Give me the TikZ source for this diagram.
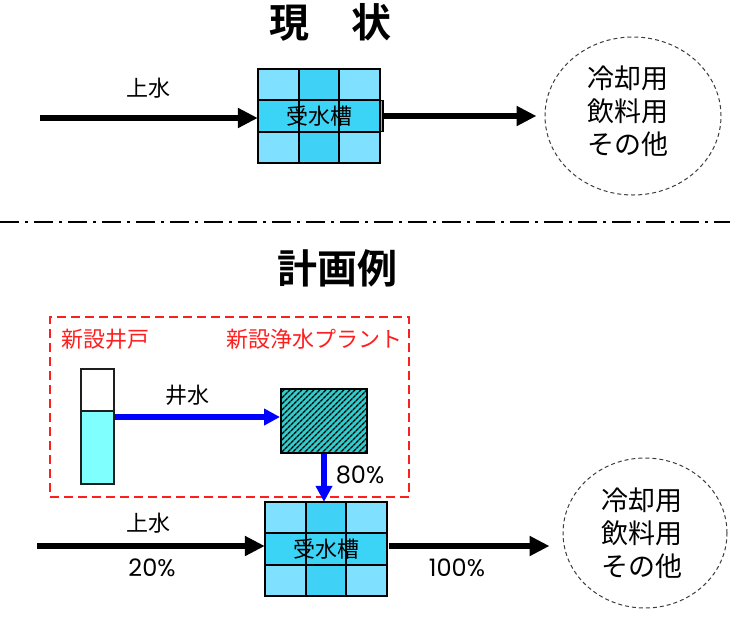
\documentclass[tikz,border=0pt]{standalone}
\usepackage{fontspec}
\setmainfont{Noto Sans CJK JP}[BoldFont={Noto Sans CJK JP Bold}]
\newfontfamily\numfont{Poppins}
\usetikzlibrary{arrows.meta,patterns.meta,shapes.geometric,calc}
\definecolor{cellL}{RGB}{128,224,255}
\definecolor{cellD}{RGB}{64,210,246}
\definecolor{bandc}{RGB}{60,212,246}
\definecolor{waterc}{RGB}{128,255,255}
\definecolor{plantc}{RGB}{51,204,204}
\definecolor{newred}{RGB}{255,30,30}
\tikzset{
  bigarrow/.style={line width=6.5pt,-{Triangle[length=20pt,width=19pt]}},
  bluearrow/.style={line width=5.5pt,draw={rgb,255:red,0;green,0;blue,255},-{Triangle[length=16pt,width=16pt]}},
  title/.style={font=\bfseries\fontsize{40}{44}\selectfont},
  lbl/.style={font=\fontsize{22}{26}\selectfont},
  redlbl/.style={font=\fontsize{22}{26}\selectfont,text=newred},
  num/.style={font=\numfont\fontsize{24}{28}\selectfont},
  usage/.style={ellipse,draw={rgb,255:red,60;green,60;blue,60},line width=1pt,dash pattern=on 4pt off 3pt,
     align=center,inner sep=0pt,font=\fontsize{27}{33}\selectfont},
  tanklabel/.style={inner sep=0pt,font=\fontsize{22}{26}\selectfont},
  plantbox/.style={draw=black,line width=2pt,fill=plantc,
     postaction={pattern={Lines[angle=45,distance=4pt,line width=1.5pt]},pattern color=black}},
  wellbox/.style={draw={rgb,255:red,30;green,30;blue,30},line width=2pt,inner sep=0pt},
  newarea/.style={draw=newred,line width=2pt,dash pattern=on 9pt off 5pt},
  divider/.style={line width=2.6pt,dash pattern=on 19pt off 6pt on 3pt off 6pt}
}
\newcommand\watertank[4]{%
  \begin{scope}[shift={(#2,#3)}]
    \fill[cellL] (-61,-47) rectangle (61,47);
    \fill[cellD] (-20.33,-47) rectangle (20.33,47);
    \filldraw[fill=bandc,draw=black,line width=1.5pt] (-61,-15.67) rectangle (#4,15.67);
    \draw[line width=1.8pt] (-20.33,-47) -- (-20.33,47) (20.33,-47) -- (20.33,47)
      (-61,-15.67) -- (61,-15.67) (-61,15.67) -- (61,15.67);
    \draw[line width=2pt] (-61,-47) rectangle (61,47);
  \end{scope}
  \node[tanklabel,minimum width=122pt,minimum height=94pt] (#1) at (#2,#3) {受水槽};
}
\begin{document}
\begin{tikzpicture}[x=1pt,y=-1pt]
\useasboundingbox (0,0) rectangle (730,619);

% ---------- current ----------
\node[title] (titleA) at (330,22) {現\hspace{42pt}状};
\watertank{tankA}{319}{116}{64}
\coordinate (inA) at (40,118);
\draw[bigarrow] (inA) -- (inA -| tankA.west);
\node[lbl] (supA) at (148,88) {上水};
\node[usage,minimum width=176pt,minimum height=158pt] (useA) at (633,116) {};
\node[usage,draw=none] (useAtext) at (628,111) {冷却用\\飲料用\\その他};
\coordinate (outA) at (383,116);
\draw[bigarrow,shorten >=8pt] (outA) -- (outA -| useA.west);

% ---------- divider ----------
\coordinate (divL) at (0,222);
\coordinate (divR) at (730,222);
\draw[divider] (divL) -- (divR);

% ---------- plan ----------
\node[title] (titleB) at (337,268) {計画例};
\node[newarea,minimum width=359pt,minimum height=180pt] (area) at (229.5,407) {};
\node[redlbl] (wellLbl) at (105,339) {新設井戸};
\node[redlbl] (plantLbl) at (314,339) {新設浄水プラント};

\fill[waterc] (81,411) rectangle (114,484);
\draw[line width=2pt,draw={rgb,255:red,30;green,30;blue,30}] (81,411) -- (114,411);
\node[wellbox,minimum width=33pt,minimum height=115pt] (well) at (97.5,426.5) {};

\node[plantbox,minimum width=86pt,minimum height=64pt] (plant) at (324,421) {};
\coordinate (wellout) at (0,417);
\draw[bluearrow] (wellout -| well.east) -- (wellout -| plant.west);
\node[lbl] (wellWater) at (187,395) {井水};

\watertank{tankB}{326}{549}{61}
\draw[bluearrow] (plant.south) -- (plant.south |- tankB.north);
\node[num] (p80) at (360,475) {80\%};

\coordinate (inB) at (37,546);
\draw[bigarrow] (inB) -- (inB -| tankB.west);
\node[lbl] (supB) at (148,523) {上水};
\node[num] (p20) at (152,568) {20\%};

\node[usage,minimum width=164pt,minimum height=150pt] (useB) at (645,533) {};
\node[usage,draw=none] (useBtext) at (642,533) {冷却用\\飲料用\\その他};
\coordinate (outB) at (389,546);
\draw[bigarrow,shorten >=13pt] (outB) -- (outB -| useB.west);
\node[num] (p100) at (457,568) {100\%};
\end{tikzpicture}
\end{document}
